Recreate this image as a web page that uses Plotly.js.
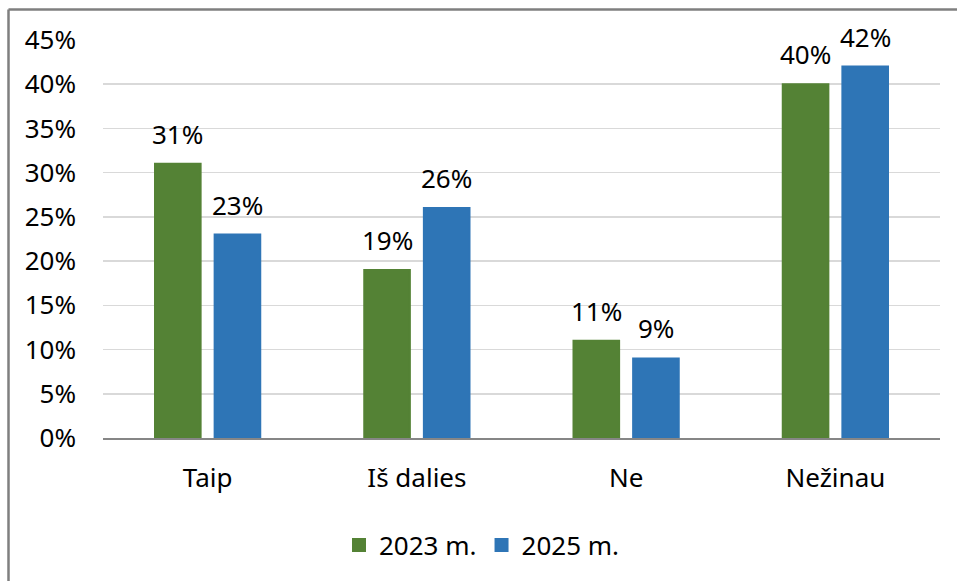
<!DOCTYPE html>
<html>
<head>
<meta charset="utf-8">
<script src="https://cdn.plot.ly/plotly-3.0.1.min.js"></script>
<style>
html,body{margin:0;padding:0;background:#fff;overflow:hidden;}
#chart{width:957px;height:581px;}
</style>
</head>
<body>
<div id="chart"></div>
<script>
const categories = ["Taip", "Iš dalies", "Ne", "Nežinau"];
const series2023 = [31, 19, 11, 40];
const series2025 = [23, 26, 9, 42];
const seriesNames = ["2023 m.", "2025 m."];
const yTicks = [0, 5, 10, 15, 20, 25, 30, 35, 40, 45];

const FONT = "'Noto Sans', sans-serif";
const FS = 26;
const colors = ["#548235", "#2E75B6"];

const traces = [
  {type: "bar", name: seriesNames[0], x: categories, y: series2023,
   marker: {color: colors[0], line: {color: colors[0], width: 2}}, hoverinfo: "skip"},
  {type: "bar", name: seriesNames[1], x: categories, y: series2025,
   marker: {color: colors[1], line: {color: colors[1], width: 2}}, hoverinfo: "skip"}
];

const L = 103, R = 940, T = 40, B = 438;
const pw = R - L, ph = B - T;
const px = x => (x - L) / pw;
const py = y => (B - y) / ph;

const slot = 59.5;
const annotations = [];
[series2023, series2025].forEach((vals, si) => {
  vals.forEach((v, i) => {
    annotations.push({x: categories[i], y: v, xref: "x", yref: "y",
      text: v + "%", showarrow: false, yanchor: "bottom", xanchor: "center",
      xshift: (si === 0 ? -1 : 1) * slot / 2, yshift: 10,
      font: {family: FONT, size: FS, color: "#000"}});
  });
});

const layout = {
  width: 957, height: 581, autosize: false,
  margin: {l: L, r: 957 - R, t: T, b: 581 - B, pad: 0},
  paper_bgcolor: "#fff", plot_bgcolor: "#fff",
  font: {family: FONT, size: FS, color: "#000"},
  barmode: "group", bargap: 0.43, bargroupgap: 0.235,
  showlegend: true,
  legend: {orientation: "h", x: px(482), xanchor: "center", y: py(545), yanchor: "middle",
           font: {family: FONT, size: FS, color: "#000"}, itemwidth: 30, tracegroupgap: 0},
  xaxis: {showgrid: false, showline: true, linecolor: "#868686", linewidth: 1.5,
          ticks: "", tickfont: {family: FONT, size: FS, color: "#000"}, ticklabelstandoff: 16},
  yaxis: {range: [0, 45], tickvals: yTicks, ticktext: yTicks.map(v => v + "%"),
          showgrid: true, gridcolor: "#d9d9d9", gridwidth: 1.5, zeroline: false,
          showline: false, ticks: "", tickfont: {family: FONT, size: FS, color: "#000"},
          ticklabelstandoff: 26},
  annotations: annotations,
  shapes: [
    {type: "line", xref: "paper", yref: "paper", x0: px(8.5), x1: px(8.5), y0: py(9.5), y1: py(700),
     line: {color: "#7f7f7f", width: 2.5}},
    {type: "line", xref: "paper", yref: "paper", x0: px(8.5), x1: px(1100), y0: py(9.5), y1: py(9.5),
     line: {color: "#7f7f7f", width: 2.5}}
  ]
};

Plotly.newPlot("chart", traces, layout, {staticPlot: true, displayModeBar: false});
</script>
</body>
</html>
